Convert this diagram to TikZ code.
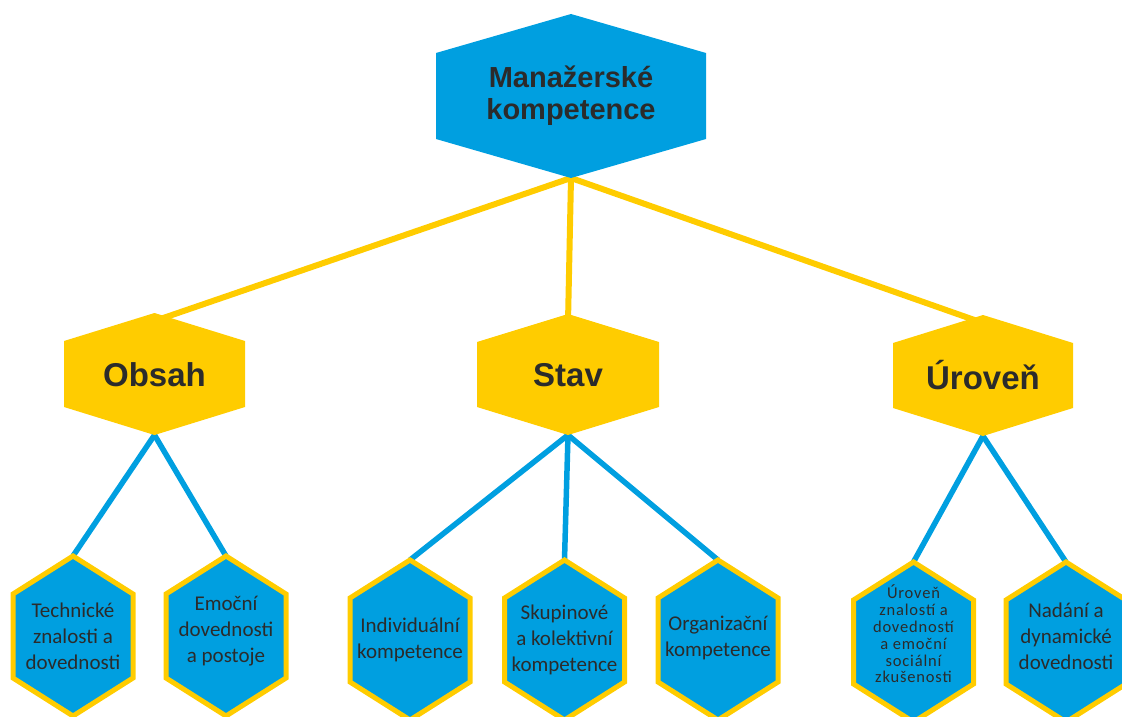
\documentclass[tikz,border=0pt]{standalone}
\usepackage{fontspec}
\setmainfont{Liberation Sans}
\newfontfamily\calfont{Carlito}
\newfontfamily\calspaced[LetterSpace=5]{Carlito}
\usetikzlibrary{calc}
\pgfdeclarelayer{background}
\pgfsetlayers{background,main}
\definecolor{hexblue}{HTML}{009FE0}
\definecolor{hexyellow}{HTML}{FFCC00}
\definecolor{txt}{HTML}{2B2B2B}
% #1 name, #2 cx, #3 cy, #4 half width, #5 half side, #6 peak, #7 shape style, #8 text style, #9 text
\newcommand\hexnode[9]{%
  \path[#7] ({#2-#4},{#3-#5}) -- (#2,{#3-#5-#6}) -- ({#2+#4},{#3-#5})
    -- ({#2+#4},{#3+#5}) -- (#2,{#3+#5+#6}) -- ({#2-#4},{#3+#5}) -- cycle;
  \coordinate (#1-t) at (#2,{#3-#5-#6});
  \coordinate (#1-ti) at (#2,{#3-#5-#6+8});
  \coordinate (#1-b) at (#2,{#3+#5+#6});
  \node[#8] (#1) at (#2,#3) {#9};
}
\tikzset{
  topshape/.style={fill=hexblue},
  midshape/.style={fill=hexyellow},
  leafshape/.style={fill=hexblue, draw=hexyellow, line width=5pt, line join=miter},
  bigtext/.style={font=\fontsize{29}{32}\selectfont\bfseries, text=txt, align=center},
  midtext/.style={font=\fontsize{33}{38}\selectfont\bfseries, text=txt},
  leaftext/.style={font=\calfont\fontsize{21}{26}\selectfont, text=txt, align=center, inner sep=0pt},
  smalltext/.style={font=\calspaced\fontsize{16.5}{16.8}\selectfont, text=txt, align=center, inner sep=0pt},
  yline/.style={draw=hexyellow, line width=6pt},
  bline/.style={draw=hexblue, line width=5.5pt},
}
\begin{document}
\begin{tikzpicture}[x=1pt,y=-1pt]
\useasboundingbox (0,0) rectangle (1122,717);
\clip (0,0) rectangle (1122,717);
% top
\hexnode{top}{571}{96}{135}{43}{39}{topshape}{bigtext}{Manažerské\\kompetence}
% middle
\hexnode{obsah}{154.5}{374}{90.5}{33}{28}{midshape}{midtext, yshift=-1pt}{Obsah}
\hexnode{stav}{568}{374.5}{91}{32.5}{28}{midshape}{midtext, yshift=-1pt}{Stav}
\hexnode{uroven}{983}{375.5}{90}{32.5}{28}{midshape}{midtext}{Úroveň}
% leaves
\hexnode{tech}{73}{636}{60}{42}{38}{leafshape}{leaftext}{Technické\\znalosti a\\dovednosti}
\hexnode{emo}{226}{636}{60}{42}{38}{leafshape}{leaftext, yshift=5pt}{Emoční\\dovednosti\\a postoje}
\hexnode{indiv}{410}{640}{60}{42}{38}{leafshape}{leaftext}{Individuální\\kompetence}
\hexnode{skup}{564.5}{640}{60}{42}{38}{leafshape}{leaftext}{Skupinové\\a kolektivní\\kompetence}
\hexnode{org}{718}{640}{60}{42}{38}{leafshape}{leaftext, yshift=2pt}{Organizační\\kompetence}
\hexnode{uzn}{913.5}{642}{60}{42}{38}{leafshape}{smalltext, yshift=8pt}{Úroveň\\znalostí a\\dovedností\\a emoční\\sociální\\zkušenosti}
\hexnode{nad}{1066}{642}{60}{42}{38}{leafshape}{leaftext, yshift=6pt}{Nadání a\\dynamické\\dovednosti}
% connectors
\begin{pgfonlayer}{background}
  \draw[yline] (top-b) -- (obsah-ti);
  \draw[yline] (top-b) -- (stav-ti);
  \draw[yline] (top-b) -- (uroven-ti);
  \draw[bline] (obsah-b) -- (tech-t);
  \draw[bline] (obsah-b) -- (emo-t);
  \draw[bline] (stav-b) -- (indiv-t);
  \draw[bline] (stav-b) -- (skup-t);
  \draw[bline] (stav-b) -- (org-t);
  \draw[bline] (uroven-b) -- (uzn-t);
  \draw[bline] (uroven-b) -- (nad-t);
\end{pgfonlayer}
\end{tikzpicture}
\end{document}
